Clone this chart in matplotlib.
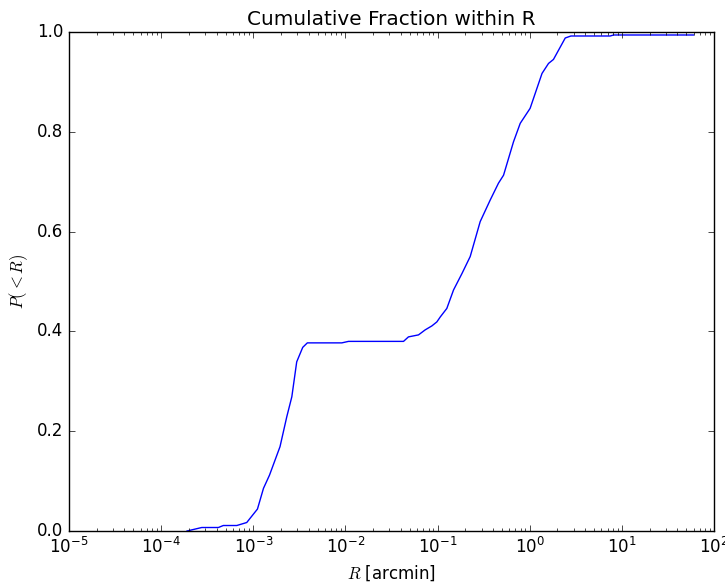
import numpy as np
import matplotlib
matplotlib.use('Agg')
import matplotlib.pyplot as plt

# radius in arcmin
r_arcmin = [1.91e-4, 2.76e-4, 4.18e-4, 4.73e-4, 6.62e-4, 8.49e-4, 1.11e-3,
            1.29e-3, 1.50e-3, 1.95e-3, 2.31e-3, 2.62e-3, 2.96e-3, 3.44e-3,
            3.86e-3, 9.14e-3, 1.08e-2, 4.27e-2, 4.83e-2, 6.21e-2, 7.33e-2,
            8.67e-2, 9.82e-2, 0.107, 0.126, 0.149, 0.184, 0.226, 0.290,
            0.372, 0.458, 0.520, 0.667, 0.789, 1.01, 1.36, 1.60, 1.81,
            2.43, 2.80, 7.48, 8.13, 60.0]
# cumulative fraction
frac = [0.0, 0.007, 0.007, 0.011, 0.011, 0.017, 0.044,
        0.0855, 0.112, 0.169, 0.229, 0.269, 0.339, 0.368,
        0.377, 0.377, 0.380, 0.380, 0.389, 0.393, 0.403,
        0.411, 0.419, 0.429, 0.446, 0.483, 0.516, 0.550, 0.620,
        0.663, 0.697, 0.713, 0.780, 0.817, 0.847, 0.917, 0.937, 0.945,
        0.988, 0.992, 0.992, 0.994, 0.994]

plt.style.use('classic')
fig = plt.figure(figsize=(7.25, 5.86), dpi=100, facecolor='white')
ax = fig.add_axes([69/725., 55/586., 645/725., 499/586.])
ax.plot(r_arcmin, frac, 'b-', lw=1)
ax.set_xscale('log')
ax.set_xlim(1e-5, 1e2)
ax.set_ylim(0, 1)
ax.set_title('Cumulative Fraction within R')
ax.set_xlabel(r'$R$ [arcmin]')
ax.set_ylabel(r'$P(<R)$')

fig.savefig('out.png', dpi=100, facecolor='white')
